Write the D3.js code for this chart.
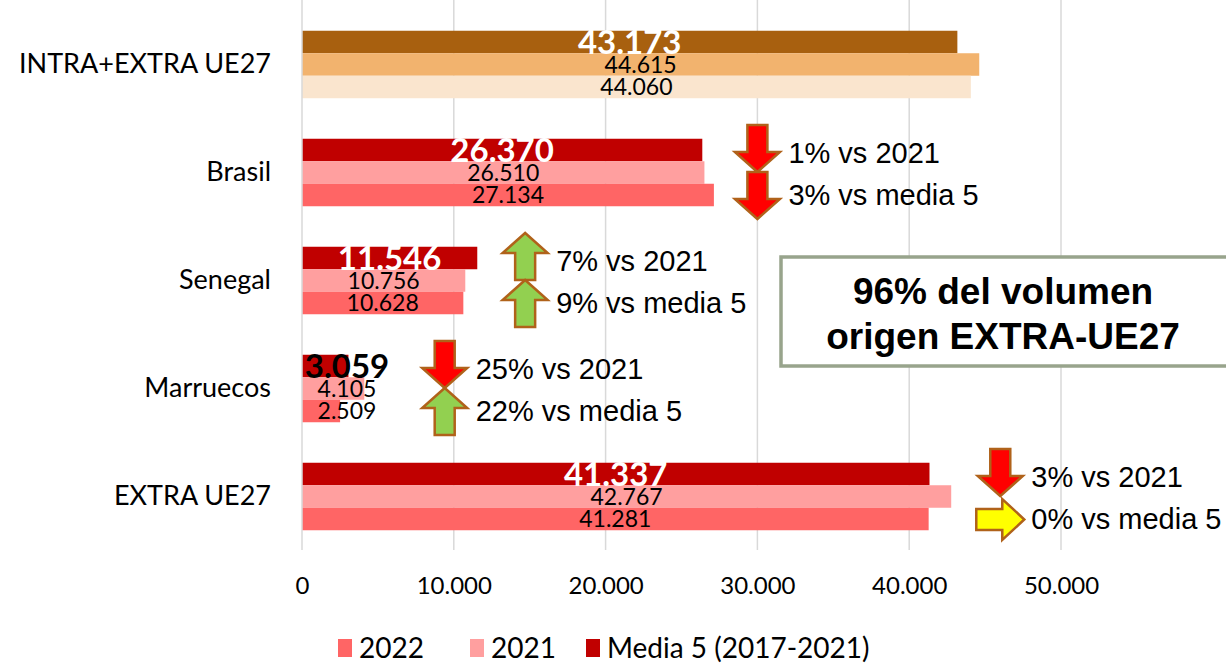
<!DOCTYPE html>
<html><head><meta charset="utf-8">
<script src="https://cdn.jsdelivr.net/npm/d3@7"></script>
<style>body{margin:0;background:#fff}svg{display:block}</style>
</head><body>
<svg id="c" width="1226" height="663"></svg>
<script>
const categories = ["INTRA+EXTRA UE27","Brasil","Senegal","Marruecos","EXTRA UE27"];
const v2022 = [43173, 26370, 11546, 3059, 41337];
const v2021 = [44615, 26510, 10756, 4105, 42767];
const vMedia5 = [44060, 27134, 10628, 2509, 41281];
const seriesNames = ["2022","2021","Media 5 (2017-2021)"];
const xTicks = [0,10000,20000,30000,40000,50000];
// annotation arrows: category, x position (data units)
const annotCats = ["Brasil","Senegal","Marruecos","EXTRA UE27"];
const annotAt = [30000, 14700, 9400, 46000];
const boxLines = ["96% del volumen","origen EXTRA-UE27"];

const svg = d3.select("#c");
const CAL = "Lato, 'Liberation Sans', sans-serif";
const ARI = "'Liberation Sans', Arial, sans-serif";
const loc = d3.formatLocale({decimal:",", thousands:".", grouping:[3], currency:["","€"]});
const fmt = loc.format(",.0f");

const x = d3.scaleLinear().domain([0,50000]).range([302,1061]);
const y = d3.scaleBand().domain(categories).range([10.5,550.5]).paddingInner(0.375).paddingOuter(0.1875);
const ys = d3.scaleBand().domain(["a","b","c"]).range([0,y.bandwidth()]);

const normalCols = ["#C00000","#FF9F9F","#FF6565"];
const intraCols = ["#A8600F","#F2B36E","#FAE5CE"];

// grid
svg.append("g").selectAll("line").data(xTicks.slice(1)).join("line")
  .attr("x1",d=>x(d)).attr("x2",d=>x(d)).attr("y1",0).attr("y2",550)
  .attr("stroke","#D9D9D9").attr("stroke-width",1.5);

// bars
const rows = categories.map((c,i)=>({c, vals:[v2022[i],v2021[i],vMedia5[i]], cols: i===0?intraCols:normalCols}));
const g = svg.append("g");
rows.forEach(r=>{
  const gg = g.append("g").attr("transform",`translate(0,${y(r.c)})`);
  const items = r.vals.map((v,k)=>({v,k,key:["a","b","c"][k],col:r.cols[k]}));
  gg.selectAll("rect").data(items).join("rect")
    .attr("x",x(0)).attr("y",d=>ys(d.key)).attr("width",d=>x(d.v)-x(0)).attr("height",ys.bandwidth())
    .attr("fill",d=>d.col);
  gg.selectAll("text").data(items).join("text")
    .attr("x",d=>Math.max((x(0)+x(d.v))/2, x(0)+45))
    .attr("y",d=>ys(d.key)+ys.bandwidth()/2)
    .attr("dy","0.36em")
    .attr("text-anchor","middle")
    .attr("font-family",CAL)
    .attr("font-size",d=>d.k===0?33:23)
    .attr("font-weight",d=>d.k===0?"bold":"normal")
    .attr("fill",d=>d.k===0 && (x(d.v)-x(0))>100 ? "#fff" : "#000")
    .text(d=>fmt(d.v));
});

// axis line at 0
svg.append("line").attr("x1",x(0)).attr("x2",x(0)).attr("y1",0).attr("y2",550).attr("stroke","#D9D9D9").attr("stroke-width",1.5);

// x tick labels
const xa = svg.append("g").attr("transform","translate(0,577)")
  .call(d3.axisBottom(x).tickValues(xTicks).tickFormat(fmt).tickSize(0).tickPadding(0));
xa.select(".domain").remove();
xa.selectAll("text").attr("font-family",CAL).attr("font-size",24).attr("fill","#000").attr("dy","0.71em");

// y labels
const ya = svg.append("g").attr("transform","translate(271,0)")
  .call(d3.axisLeft(y).tickSize(0).tickPadding(0));
ya.select(".domain").remove();
ya.selectAll("text").attr("font-family",CAL).attr("font-size",27).attr("fill","#000");

// arrows
function arrowPath(L, Wd, s, hl){
  const t=-L/2, b=L/2, hs=b-hl;
  return `M${-s/2},${t}L${s/2},${t}L${s/2},${hs}L${Wd/2},${hs}L0,${b}L${-Wd/2},${hs}L${-s/2},${hs}Z`;
}
const annG = svg.append("g");
annotCats.forEach((c,i)=>{
  const idx = categories.indexOf(c);
  const yc = y(c)+y.bandwidth()/2;
  const ax = x(annotAt[i]);
  const comps = [
    {pct: v2022[idx]/v2021[idx]-1, lab:"vs 2021", ay: yc-24, ty: yc-20},
    {pct: v2022[idx]/vMedia5[idx]-1, lab:"vs media 5", ay: yc+23, ty: yc+22}
  ];
  comps.forEach(cp=>{
    const p = Math.round(Math.abs(cp.pct)*100);
    let rot, fill, path;
    if (p===0){ rot=-90; fill="#FFFF00"; path=arrowPath(48,41,21,22); }
    else if (cp.pct<0){ rot=0; fill="#FF0000"; path=arrowPath(47,45,20,20); }
    else { rot=180; fill="#92D050"; path=arrowPath(47,45,20,20); }
    annG.append("path").attr("d",path)
      .attr("transform",`translate(${ax},${cp.ay}) rotate(${rot})`)
      .attr("fill",fill).attr("stroke","#B0621A").attr("stroke-width",2.5).attr("stroke-linejoin","miter");
    annG.append("text").attr("x",ax+31).attr("y",cp.ty).attr("dy","0.35em")
      .attr("font-family",ARI).attr("font-size",29).attr("fill","#000")
      .text(`${p}% ${cp.lab}`);
  });
});

// box
svg.append("rect").attr("x",781).attr("y",257).attr("width",460).attr("height",109)
  .attr("fill","#fff").attr("stroke","#98A48C").attr("stroke-width",3.5);
svg.append("g").selectAll("text").data(boxLines).join("text")
  .attr("x",1003).attr("y",(d,i)=>291+i*45).attr("dy","0.36em")
  .attr("text-anchor","middle").attr("font-family",ARI).attr("font-weight","bold")
  .attr("font-size",37).attr("fill","#000").text(d=>d);

// legend
const legCols = ["#FF6565","#FF9F9F","#C00000"];
const legX = [338, 470, 586];
const lg = svg.append("g");
seriesNames.forEach((n,i)=>{
  lg.append("rect").attr("x",legX[i]).attr("y",639).attr("width",14).attr("height",18).attr("fill",legCols[i]);
  lg.append("text").attr("x",legX[i]+21).attr("y",648).attr("dy","0.36em")
    .attr("font-family",CAL).attr("font-size",28).attr("fill","#000").text(n);
});
</script>
</body></html>
